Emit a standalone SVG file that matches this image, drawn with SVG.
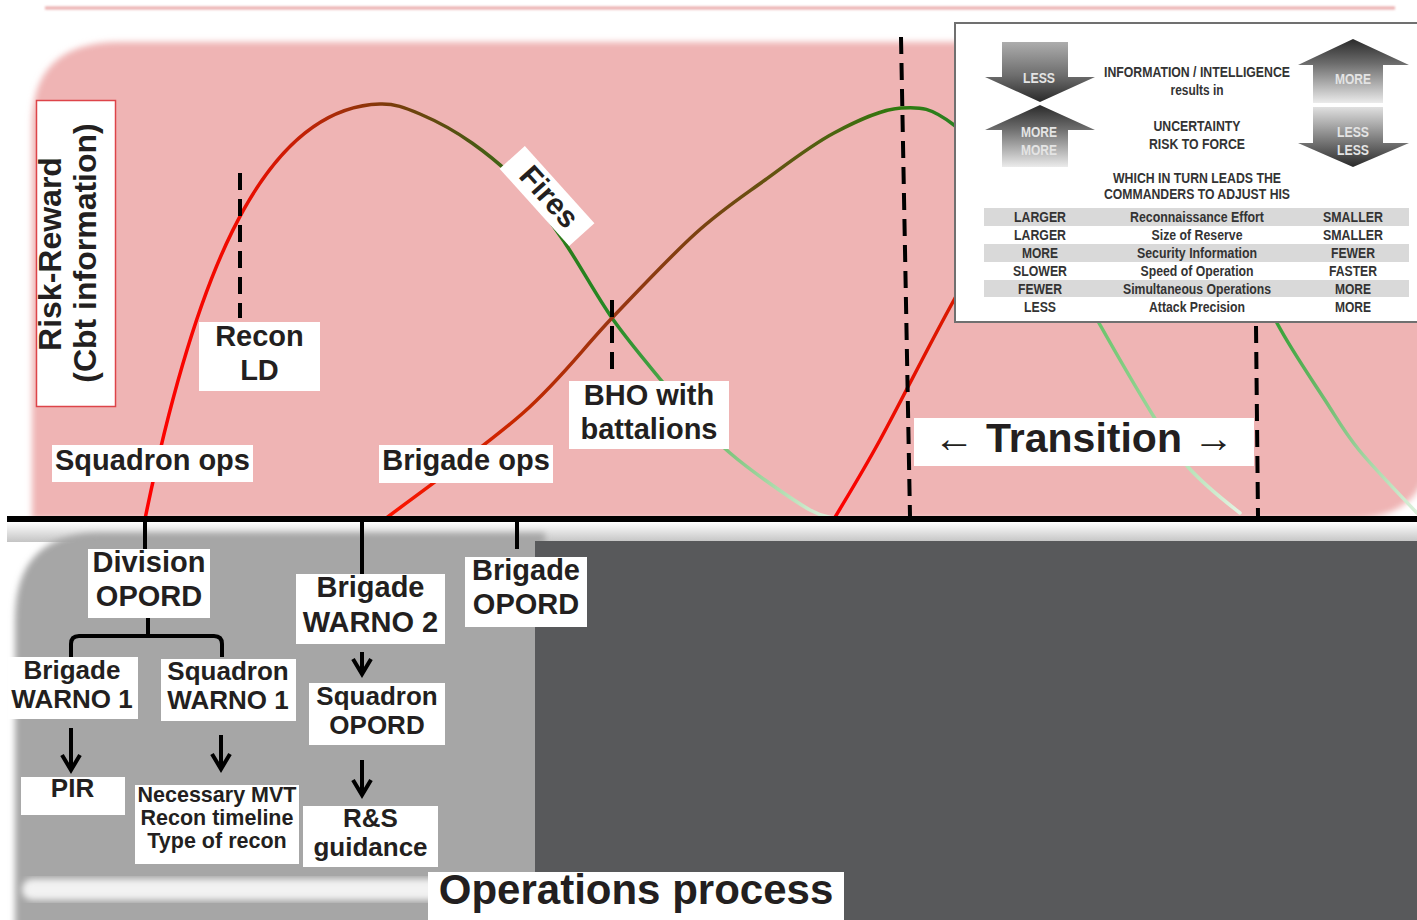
<svg xmlns="http://www.w3.org/2000/svg" width="1417" height="920" viewBox="0 0 1417 920">
  <defs>
    <style>
      .lb{font-family:"Liberation Sans",Arial,sans-serif;font-weight:bold;fill:#231F20;text-anchor:middle}
      .f29{font-size:29px}
      .f26{font-size:26px}
      .f21{font-size:21.5px}
      .box{fill:#fff}
      .ib{font-family:"Liberation Sans",Arial,sans-serif;font-weight:bold;font-size:14px;fill:#333;text-anchor:middle}
      .al{font-family:"Liberation Sans",Arial,sans-serif;font-weight:bold;font-size:14px;fill:#E4E4E4;text-anchor:middle}
      .dash{stroke:#000;stroke-width:4;stroke-dasharray:17 9;fill:none}
      .conn{stroke:#000;stroke-width:4;fill:none}
      .curve{fill:none;stroke-width:3.5;stroke-linecap:round}
      .band{fill:#D9D9D9}
    </style>
    <filter id="soft" x="-5%" y="-10%" width="110%" height="120%">
      <feGaussianBlur stdDeviation="3"/>
    </filter>
    <filter id="soft1" x="-5%" y="-200%" width="110%" height="500%">
      <feGaussianBlur stdDeviation="1.2"/>
    </filter>
    <linearGradient id="g1" gradientUnits="userSpaceOnUse" x1="145" y1="0" x2="830" y2="0">
      <stop offset="0" stop-color="#FF0000"/>
      <stop offset="0.14" stop-color="#EE0C00"/>
      <stop offset="0.27" stop-color="#AE2A08"/>
      <stop offset="0.35" stop-color="#7E3A0A"/>
      <stop offset="0.47" stop-color="#4E5512"/>
      <stop offset="0.60" stop-color="#2A7A18"/>
      <stop offset="0.68" stop-color="#258A25"/>
      <stop offset="0.81" stop-color="#62B962"/>
      <stop offset="1" stop-color="#E0F3E0"/>
    </linearGradient>
    <linearGradient id="g2" gradientUnits="userSpaceOnUse" x1="385" y1="0" x2="1240" y2="0">
      <stop offset="0" stop-color="#FF1200"/>
      <stop offset="0.16" stop-color="#C42800"/>
      <stop offset="0.265" stop-color="#9A3510"/>
      <stop offset="0.37" stop-color="#7A4210"/>
      <stop offset="0.485" stop-color="#5A5A10"/>
      <stop offset="0.60" stop-color="#2E7A0E"/>
      <stop offset="0.66" stop-color="#2B8020"/>
      <stop offset="0.835" stop-color="#6CC46C"/>
      <stop offset="1" stop-color="#E3F4E3"/>
    </linearGradient>
    <linearGradient id="g3" gradientUnits="userSpaceOnUse" x1="834" y1="0" x2="1417" y2="0">
      <stop offset="0" stop-color="#FF0000"/>
      <stop offset="0.21" stop-color="#D81A00"/>
      <stop offset="0.48" stop-color="#607010"/>
      <stop offset="0.76" stop-color="#38A238"/>
      <stop offset="1" stop-color="#DDF1DD"/>
    </linearGradient>
    <linearGradient id="aDown" x1="0" y1="0" x2="0" y2="1">
      <stop offset="0" stop-color="#ADADAD"/>
      <stop offset="0.55" stop-color="#6E6E6E"/>
      <stop offset="1" stop-color="#2A2A2A"/>
    </linearGradient>
    <linearGradient id="aUp" x1="0" y1="0" x2="0" y2="1">
      <stop offset="0" stop-color="#2A2A2A"/>
      <stop offset="0.38" stop-color="#6C6C6C"/>
      <stop offset="1" stop-color="#EBEBEB"/>
    </linearGradient>
    <linearGradient id="aDown2" x1="0" y1="0" x2="0" y2="1">
      <stop offset="0" stop-color="#E0E0E0"/>
      <stop offset="0.6" stop-color="#727272"/>
      <stop offset="1" stop-color="#2A2A2A"/>
    </linearGradient>
    <linearGradient id="underAxis" x1="0" y1="0" x2="0" y2="1">
      <stop offset="0" stop-color="#FFFFFF"/>
      <stop offset="1" stop-color="#C4C4C4"/>
    </linearGradient>
    <marker id="arr" markerUnits="userSpaceOnUse" viewBox="-20 -12 24 24" refX="0" refY="0" markerWidth="24" markerHeight="24" orient="auto" overflow="visible">
      <path d="M-15,-9 L0,0 L-15,9" fill="none" stroke="#000" stroke-width="4"/>
    </marker>
  </defs>

  <!-- canvas -->
  <rect x="0" y="0" width="1417" height="920" fill="#fff"/>

  <!-- backdrop panels -->
  <g id="backdrop">
    <rect x="45" y="6.5" width="1350" height="3" fill="#E9AAAA" filter="url(#soft1)"/>
    <path d="M32,125 C32,70 60,42 120,42 H1430 V445 C1430,495 1400,519 1350,519 H32 Z" fill="#EFB4B4" filter="url(#soft)"/>
    <rect x="7" y="522" width="1410" height="20" fill="url(#underAxis)"/>
    <path d="M15,620 C15,560 45,533 100,533 H545 V930 H15 Z" fill="#A6A6A6" filter="url(#soft)"/>
    <rect x="22" y="879" width="420" height="21" rx="10" fill="#F2F2F2" filter="url(#soft)"/>
    <rect x="535" y="541" width="882" height="379" fill="#58595B"/>
  </g>

  <!-- trend curves -->
  <g id="curves">
    <path class="curve" stroke="url(#g1)" d="M145,519 C190,300 255,108 380,104 C394.5,103.5 404.7,107.5 420,114 C435.3,120.5 454.8,130.8 472,143 C489.2,155.2 507.5,170.3 523,187 C538.5,203.7 550.2,221.2 565,243 C579.8,264.8 596,295.2 612,318 C628,340.8 647,363 661,380 C675,397 684.5,407.8 696,420 C707.5,432.2 718.5,443 730,453 C741.5,463 751.7,470.5 765,480 C778.3,489.5 798.8,503.7 810,510 C821.2,516.3 828.3,516.7 832,518"/>
    <path class="curve" stroke="url(#g2)" d="M385,519 C408,501.3 485.2,446.5 523,413 C560.8,379.5 583.2,348 612,318 C640.8,288 670.5,256 696,233 C721.5,210 742,196.7 765,180 C788,163.3 811.3,145 834,133 C856.7,121 881,109.3 901,108 C921,106.7 930.8,107.2 954,125 C977.2,142.8 1015.8,182 1040,215 C1064.2,248 1080,289.3 1099,323 C1118,356.7 1139.2,393 1154,417 C1168.8,441 1173.7,451 1188,467 C1202.3,483 1228.8,504.3 1240,513"/>
    <path class="curve" stroke="url(#g3)" d="M834,519 C841.7,505.8 860,476.5 880,440 C900,403.5 929,345 954,300 C979,255 1004,201.7 1030,170 C1056,138.3 1083.3,113.3 1110,110 C1136.7,106.7 1168.3,128.3 1190,150 C1211.7,171.7 1225.5,211.2 1240,240 C1254.5,268.8 1262.8,296.3 1277,323 C1291.2,349.7 1311.3,378.8 1325,400 C1338.7,421.2 1343.7,431.2 1359,450 C1374.3,468.8 1407.3,502.5 1417,513"/>
  </g>

  <!-- phase markers -->
  <g id="phase-lines">
    <line class="dash" x1="240" y1="173" x2="240" y2="318"/>
    <line class="dash" x1="612" y1="300" x2="612" y2="378"/>
    <line class="dash" x1="901" y1="37" x2="910" y2="516"/>
    <line class="dash" x1="1253" y1="40" x2="1258" y2="516"/>
  </g>

  <!-- time axis -->
  <line id="axis" x1="7" y1="519" x2="1417" y2="519" stroke="#000" stroke-width="6"/>

  <!-- connectors -->
  <g id="connectors">
    <line class="conn" x1="145" y1="519" x2="145" y2="549"/>
    <line class="conn" x1="362" y1="519" x2="362" y2="574"/>
    <line class="conn" x1="517" y1="519" x2="517" y2="549"/>
    <path class="conn" d="M148,618 V636 M71,657 V644 Q71,636 79,636 H214 Q222,636 222,644 V657"/>
    <line class="conn" x1="71" y1="728" x2="71" y2="770" marker-end="url(#arr)"/>
    <line class="conn" x1="221" y1="735" x2="221" y2="769" marker-end="url(#arr)"/>
    <line class="conn" x1="362" y1="652" x2="362" y2="674" marker-end="url(#arr)"/>
    <line class="conn" x1="362" y1="760" x2="362" y2="795" marker-end="url(#arr)"/>
  </g>

  <!-- upper labels -->
  <g id="risk-reward">
    <rect x="36.5" y="100.5" width="79" height="306" fill="#fff" stroke="#DD4449" stroke-width="1.5"/>
    <text class="lb" font-size="32" transform="translate(61,254) rotate(-90)">Risk-Reward</text>
    <text class="lb" font-size="32" transform="translate(96,253) rotate(-90)">(Cbt information)</text>
  </g>
  <g id="recon-ld">
    <rect class="box" x="199" y="322" width="121" height="69"/>
    <text class="lb f29" x="259.5" y="345.5">Recon</text>
    <text class="lb f29" x="259.5" y="380">LD</text>
  </g>
  <g id="fires">
    <g transform="translate(547,196) rotate(48)">
      <rect class="box" x="-52" y="-17" width="104" height="34"/>
      <text class="lb" font-size="30" x="2" y="9">Fires</text>
    </g>
  </g>
  <g id="squadron-ops">
    <rect class="box" x="52" y="445" width="201" height="37"/>
    <text class="lb f29" x="152.5" y="470">Squadron ops</text>
  </g>
  <g id="brigade-ops">
    <rect class="box" x="379" y="445" width="174" height="38"/>
    <text class="lb f29" x="466" y="470">Brigade ops</text>
  </g>
  <g id="bho">
    <rect class="box" x="569" y="381" width="160" height="68"/>
    <text class="lb f29" x="649" y="405">BHO with</text>
    <text class="lb f29" x="649" y="439">battalions</text>
  </g>
  <g id="transition">
    <rect class="box" x="914" y="418" width="340" height="48"/>
    <text class="lb" font-size="41" x="1084" y="452"><tspan font-weight="normal">←</tspan> Transition <tspan font-weight="normal">→</tspan></text>
  </g>

  <!-- orders tree -->
  <g id="division-opord">
    <rect class="box" x="88" y="549" width="122" height="69"/>
    <text class="lb f29" x="149" y="572">Division</text>
    <text class="lb f29" x="149" y="606">OPORD</text>
  </g>
  <g id="brigade-warno-1">
    <rect class="box" x="8" y="657" width="130" height="62"/>
    <text class="lb f26" x="72" y="679">Brigade</text>
    <text class="lb f26" x="72" y="708">WARNO 1</text>
  </g>
  <g id="squadron-warno-1">
    <rect class="box" x="161" y="659" width="135" height="62"/>
    <text class="lb f26" x="228" y="680">Squadron</text>
    <text class="lb f26" x="228" y="709">WARNO 1</text>
  </g>
  <g id="pir">
    <rect class="box" x="21" y="777" width="104" height="38"/>
    <text class="lb f26" x="72.5" y="797">PIR</text>
  </g>
  <g id="recon-guidance">
    <rect class="box" x="135" y="785" width="164" height="79"/>
    <text class="lb f21" x="217" y="802">Necessary MVT</text>
    <text class="lb f21" x="217" y="825">Recon timeline</text>
    <text class="lb f21" x="217" y="848">Type of recon</text>
  </g>
  <g id="brigade-warno-2">
    <rect class="box" x="296" y="574" width="149" height="70"/>
    <text class="lb f29" x="370.5" y="597">Brigade</text>
    <text class="lb f29" x="370.5" y="632">WARNO 2</text>
  </g>
  <g id="squadron-opord">
    <rect class="box" x="309" y="683" width="136" height="62"/>
    <text class="lb f26" x="377" y="705">Squadron</text>
    <text class="lb f26" x="377" y="734">OPORD</text>
  </g>
  <g id="rs-guidance">
    <rect class="box" x="303" y="806" width="135" height="61"/>
    <text class="lb f26" x="370.5" y="827">R&amp;S</text>
    <text class="lb f26" x="370.5" y="856">guidance</text>
  </g>
  <g id="brigade-opord">
    <rect class="box" x="465" y="557" width="122" height="70"/>
    <text class="lb f29" x="526" y="580">Brigade</text>
    <text class="lb f29" x="526" y="614">OPORD</text>
  </g>
  <g id="operations-process">
    <rect class="box" x="428" y="872" width="416" height="48"/>
    <text class="lb" font-size="42" x="636" y="904">Operations process</text>
  </g>

  <!-- information / intelligence legend -->
  <g id="info-legend">
    <rect x="955" y="23" width="470" height="299" fill="#fff" stroke="#707070" stroke-width="2"/>
    <polygon points="1002,42 1068,42 1068,77 1095,77 1040,102 985,77 1002,77" fill="url(#aDown)"/>
    <polygon points="1040,105 1095,130 1068,130 1068,167 1002,167 1002,130 985,130" fill="url(#aUp)"/>
    <polygon points="1353,39 1409,65 1383,65 1383,103 1313,103 1313,65 1298,65" fill="url(#aUp)"/>
    <polygon points="1313,107 1383,107 1383,143 1409,143 1353,167 1298,143 1313,143" fill="url(#aDown2)"/>
    <text class="al" x="1039" y="83" textLength="32" lengthAdjust="spacingAndGlyphs">LESS</text>
    <text class="al" x="1039" y="137" textLength="36" lengthAdjust="spacingAndGlyphs">MORE</text>
    <text class="al" x="1039" y="155" textLength="36" lengthAdjust="spacingAndGlyphs">MORE</text>
    <text class="al" x="1353" y="84" textLength="36" lengthAdjust="spacingAndGlyphs">MORE</text>
    <text class="al" x="1353" y="137" textLength="32" lengthAdjust="spacingAndGlyphs">LESS</text>
    <text class="al" x="1353" y="155" textLength="32" lengthAdjust="spacingAndGlyphs">LESS</text>

    <text class="ib" x="1197" y="77" textLength="186" lengthAdjust="spacingAndGlyphs">INFORMATION / INTELLIGENCE</text>
    <text class="ib" x="1197" y="95" textLength="53" lengthAdjust="spacingAndGlyphs">results in</text>
    <text class="ib" x="1197" y="131" textLength="87" lengthAdjust="spacingAndGlyphs">UNCERTAINTY</text>
    <text class="ib" x="1197" y="149" textLength="96" lengthAdjust="spacingAndGlyphs">RISK TO FORCE</text>
    <text class="ib" x="1197" y="183" textLength="168" lengthAdjust="spacingAndGlyphs">WHICH IN TURN LEADS THE</text>
    <text class="ib" x="1197" y="199" textLength="186" lengthAdjust="spacingAndGlyphs">COMMANDERS TO ADJUST HIS</text>

    <rect class="band" x="984" y="208" width="425" height="18"/>
    <rect class="band" x="984" y="244" width="425" height="18"/>
    <rect class="band" x="984" y="280" width="425" height="17"/>

    <text class="ib" x="1040" y="222" textLength="52" lengthAdjust="spacingAndGlyphs">LARGER</text>
    <text class="ib" x="1197" y="222" textLength="134" lengthAdjust="spacingAndGlyphs">Reconnaissance Effort</text>
    <text class="ib" x="1353" y="222" textLength="60" lengthAdjust="spacingAndGlyphs">SMALLER</text>

    <text class="ib" x="1040" y="240" textLength="52" lengthAdjust="spacingAndGlyphs">LARGER</text>
    <text class="ib" x="1197" y="240" textLength="91" lengthAdjust="spacingAndGlyphs">Size of Reserve</text>
    <text class="ib" x="1353" y="240" textLength="60" lengthAdjust="spacingAndGlyphs">SMALLER</text>

    <text class="ib" x="1040" y="258" textLength="36" lengthAdjust="spacingAndGlyphs">MORE</text>
    <text class="ib" x="1197" y="258" textLength="120" lengthAdjust="spacingAndGlyphs">Security Information</text>
    <text class="ib" x="1353" y="258" textLength="44" lengthAdjust="spacingAndGlyphs">FEWER</text>

    <text class="ib" x="1040" y="276" textLength="54" lengthAdjust="spacingAndGlyphs">SLOWER</text>
    <text class="ib" x="1197" y="276" textLength="113" lengthAdjust="spacingAndGlyphs">Speed of Operation</text>
    <text class="ib" x="1353" y="276" textLength="48" lengthAdjust="spacingAndGlyphs">FASTER</text>

    <text class="ib" x="1040" y="294" textLength="44" lengthAdjust="spacingAndGlyphs">FEWER</text>
    <text class="ib" x="1197" y="294" textLength="148" lengthAdjust="spacingAndGlyphs">Simultaneous Operations</text>
    <text class="ib" x="1353" y="294" textLength="36" lengthAdjust="spacingAndGlyphs">MORE</text>

    <text class="ib" x="1040" y="312" textLength="32" lengthAdjust="spacingAndGlyphs">LESS</text>
    <text class="ib" x="1197" y="312" textLength="96" lengthAdjust="spacingAndGlyphs">Attack Precision</text>
    <text class="ib" x="1353" y="312" textLength="36" lengthAdjust="spacingAndGlyphs">MORE</text>
  </g>
</svg>
